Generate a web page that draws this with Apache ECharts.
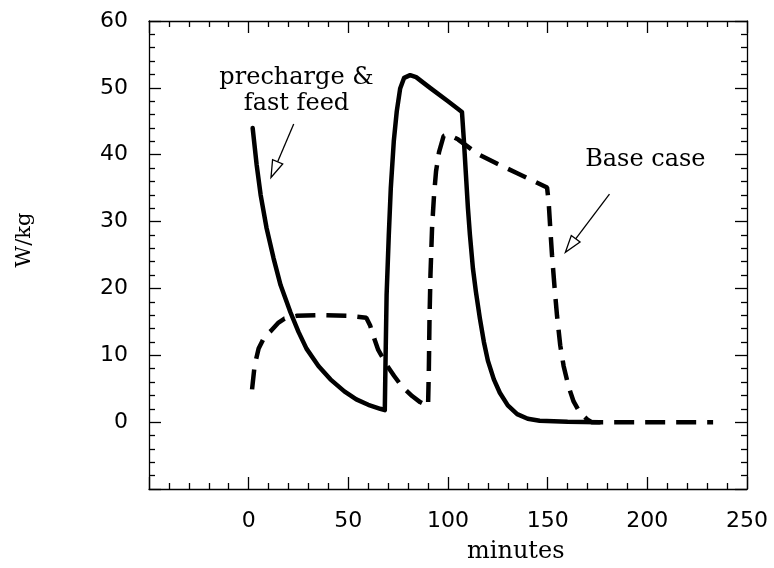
<!DOCTYPE html>
<html>
<head>
<meta charset="utf-8">
<script src="https://cdn.jsdelivr.net/npm/echarts@6/dist/echarts.min.js"></script>
<style>
  html, body { margin: 0; padding: 0; background: #fff; }
  #chart { width: 774px; height: 568px; }
</style>
</head>
<body>
<div id="chart"></div>
<script>
// precharge & fast feed (solid)
const fastFeed = [
  [2, 44], [4, 38.5], [6, 34], [9, 29], [12.5, 24.5], [16, 20.5], [21, 16.4], [25, 13.5],
  [29, 11], [35, 8.4], [41, 6.4], [48, 4.6], [54, 3.4], [60, 2.6], [66, 2], [68.3, 1.8],
  [68.6, 8], [69.2, 19], [70.3, 28], [71.3, 35], [72.8, 42], [74.3, 46.5], [76, 49.9],
  [78, 51.5], [81, 51.9], [84, 51.6], [91, 50], [100, 48], [107, 46.4], [108, 42],
  [109, 37], [110, 32], [111, 28], [112.5, 23], [114, 19.5], [116, 15.5], [118, 12],
  [120, 9.2], [123, 6.4], [126, 4.4], [130, 2.5], [134.7, 1.2], [140, 0.5], [146, 0.2],
  [160, 0.05], [176, 0]
];
// base case (dashed)
const baseCase = [
  [1.7, 4.9], [3, 8.5], [5, 11], [8, 12.8], [11, 13.6], [15, 14.9], [18, 15.5], [24, 15.9],
  [35, 16], [50, 15.9], [59, 15.6], [61, 14.4], [63, 12.5], [65, 10.8], [67.7, 9.4], [70, 8.2],
  [73, 6.9], [77, 5.3], [82, 3.9], [86, 3], [90, 2.4], [90.4, 8], [90.7, 15], [91.2, 22],
  [92, 29], [93, 34], [94, 37.5], [95.5, 40.4], [97.8, 42.8], [100, 43], [105, 42.3],
  [115, 40.1], [125, 38.6], [135, 37.2], [149.7, 35.1], [150.5, 32.9], [151.3, 29],
  [152.2, 24.9], [153.5, 20], [154.7, 15.9], [156.3, 11.5], [158, 8.4], [160.5, 5.3],
  [163, 3.1], [166, 1.5], [169.8, 0.4], [172, 0], [233, 0]
];
const xTicks = [-50, 250, 50];  // min, max, step
const yTicks = [-10, 60, 10];

// annotations in data coordinates
const notes = [
  { lines: ['precharge &', 'fast feed'], at: [24, 45.8], tail: [22.6, 44.6], tip: [11.2, 36.6] },
  { lines: ['Base case'], at: [199, 37.5], tail: [181, 34.1], tip: [158.9, 25.4] }
];

const chart = echarts.init(document.getElementById('chart'));
const ink = '#000';
const serif = 'DejaVu Serif';

function axisStyle(labels) {
  return {
    axisLine: { show: true, onZero: false, lineStyle: { color: ink, width: 1.3 } },
    axisTick: { show: true, inside: true, length: 12, lineStyle: { color: ink, width: 1.3 } },
    minorTick: { show: true, splitNumber: 5, length: 6, lineStyle: { color: ink, width: 1.3 } },
    splitLine: { show: false },
    axisLabel: {
      show: labels, margin: 21, color: ink, fontFamily: 'DejaVu Sans', fontSize: 22,
      formatter: v => (v < 0 ? '' : String(v))
    }
  };
}
function xAx(pos, labels) {
  return Object.assign({ type: 'value', position: pos, min: xTicks[0], max: xTicks[1], interval: xTicks[2] }, axisStyle(labels));
}
function yAx(pos, labels) {
  return Object.assign({ type: 'value', position: pos, min: yTicks[0], max: yTicks[1], interval: yTicks[2] }, axisStyle(labels));
}

chart.setOption({
  animation: false,
  backgroundColor: '#fff',
  grid: { left: 149, right: 27, top: 21, bottom: 79, containLabel: false },
  xAxis: [xAx('bottom', true), xAx('top', false)],
  yAxis: [yAx('left', true), yAx('right', false)],
  series: [
    {
      name: 'precharge & fast feed', type: 'line', data: fastFeed,
      showSymbol: false, symbol: 'none', smooth: false,
      lineStyle: { color: ink, width: 4.5, join: 'round', cap: 'round' }, z: 3
    },
    {
      name: 'Base case', type: 'line', data: baseCase,
      showSymbol: false, symbol: 'none', smooth: false,
      lineStyle: { color: ink, width: 4.5, type: [20, 11], cap: 'butt' }, z: 2
    }
  ]
});

// text labels and hollow arrows
const g = [];
g.push({
  type: 'text', left: 467, top: 540,
  style: { text: 'minutes', font: '24px "' + serif + '"', fill: ink }
});
g.push({
  type: 'text', x: 25, y: 240, rotation: Math.PI / 2,
  style: { text: 'W/kg', font: '21px "' + serif + '"', fill: ink, align: 'center', verticalAlign: 'middle' }
});
notes.forEach(n => {
  const p = chart.convertToPixel({ gridIndex: 0 }, n.at);
  n.lines.forEach((t, i) => {
    g.push({
      type: 'text', x: p[0], y: p[1] - (n.lines.length - 1 - i) * 26,
      style: { text: t, font: '24px "' + serif + '"', fill: ink, align: 'center', verticalAlign: 'bottom' }
    });
  });
  const a = chart.convertToPixel({ gridIndex: 0 }, n.tail);
  const b = chart.convertToPixel({ gridIndex: 0 }, n.tip);
  const dx = b[0] - a[0], dy = b[1] - a[1];
  const len = Math.hypot(dx, dy);
  const ux = dx / len, uy = dy / len;
  const hl = 17, hw = 5.5;
  const bx = b[0] - ux * hl, by = b[1] - uy * hl;
  g.push({
    type: 'line', shape: { x1: a[0], y1: a[1], x2: bx, y2: by },
    style: { stroke: ink, lineWidth: 1.3 }
  });
  g.push({
    type: 'polygon',
    shape: { points: [[b[0], b[1]], [bx - uy * hw, by + ux * hw], [bx + uy * hw, by - ux * hw]] },
    style: { fill: '#fff', stroke: ink, lineWidth: 1.3 }
  });
});
chart.setOption({ graphic: g });
</script>
</body>
</html>
